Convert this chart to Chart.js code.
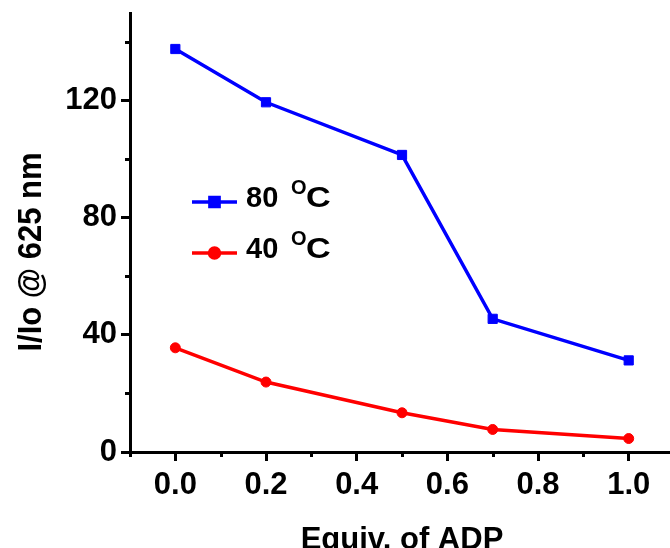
<!DOCTYPE html>
<html>
<head>
<meta charset="utf-8">
<script src="https://cdn.jsdelivr.net/npm/chart.js@4/dist/chart.umd.min.js"></script>
<style>
  html, body { margin: 0; padding: 0; background: #fff; }
  #wrap { width: 670px; height: 548px; }
</style>
</head>
<body>
<div id="wrap"><canvas id="c" width="670" height="548"></canvas></div>
<script>
// ADP equivalents added
const equivADP = [0.0, 0.2, 0.5, 0.7, 1.0];
// Emission ratio at 625 nm for each temperature
const ratio80 = [137.7, 119.5, 101.5, 45.5, 31.3];
const ratio40 = [35.6, 23.9, 13.4, 7.7, 4.6];
const seriesTemps = ['80', '40'];

// Axis ticks
const xMajorTicks = [0.0, 0.2, 0.4, 0.6, 0.8, 1.0];
const xMinorTicks = [-0.1, 0.1, 0.3, 0.5, 0.7, 0.9];
const yMajorTicks = [0, 40, 80, 120];
const yMinorTicks = [20, 60, 100, 140];

const FONT = '"Liberation Sans", Arial, Helvetica, sans-serif';
const BLUE = '#0000ff';
const RED = '#ff0000';

function toPoints(xs, ys) { return xs.map((x, i) => ({ x: x, y: ys[i] })); }

// Let the x axis run right up to the canvas edge
const fullWidthX = {
  id: 'fullWidthX',
  afterLayout(chart) {
    const right = chart.width - 0.5;
    const area = chart.chartArea;
    area.right = right;
    area.width = right - area.left;
    const xs = chart.scales.x;
    xs.right = right;
    xs.width = right - xs.left;
    xs.configure();
  }
};

// Minor ticks, axis titles and the legend with a superscript degree mark
const decorations = {
  id: 'decorations',
  afterDraw(chart) {
    const ctx = chart.ctx;
    const xs = chart.scales.x, ys = chart.scales.y;
    const area = chart.chartArea;
    ctx.save();
    ctx.strokeStyle = '#000';
    ctx.lineWidth = 3;
    xMinorTicks.forEach(v => {
      const px = Math.round(xs.getPixelForValue(v)) + 0.5;
      ctx.beginPath(); ctx.moveTo(px, area.bottom); ctx.lineTo(px, area.bottom + 5); ctx.stroke();
    });
    yMinorTicks.forEach(v => {
      const py = Math.round(ys.getPixelForValue(v)) + 0.5;
      ctx.beginPath(); ctx.moveTo(area.left, py); ctx.lineTo(area.left - 5, py); ctx.stroke();
    });

    // axis titles
    ctx.fillStyle = '#000';
    ctx.font = 'bold 31px ' + FONT;
    ctx.textAlign = 'center';
    ctx.textBaseline = 'alphabetic';
    ctx.fillText('Equiv. of ADP', 402, 549);
    ctx.save();
    ctx.translate(41, 252);
    ctx.rotate(-Math.PI / 2);
    ctx.scale(1, 1.06);
    ctx.font = 'bold 31px ' + FONT;
    ctx.fillText('I/Io @ 625 nm', 0, 0);
    ctx.restore();

    // legend
    const rows = [
      { label: seriesTemps[0], color: BLUE, style: 'rect', r: 6.5, y: 202 },
      { label: seriesTemps[1], color: RED, style: 'circle', r: 5, y: 253 }
    ];
    rows.forEach(row => {
      ctx.strokeStyle = row.color;
      ctx.lineWidth = 3.5;
      ctx.beginPath(); ctx.moveTo(192, row.y); ctx.lineTo(237, row.y); ctx.stroke();
      ctx.fillStyle = row.color;
      Chart.helpers.drawPoint(ctx, { pointStyle: row.style, radius: row.r, borderWidth: 1 }, 214.5, row.y);
      ctx.fill();
      ctx.fillStyle = '#000';
      ctx.textAlign = 'left';
      ctx.textBaseline = 'alphabetic';
      const base = row.y + 4.5;
      ctx.font = 'bold 29px ' + FONT;
      ctx.fillText(row.label, 246, base);
      ctx.font = 'bold 20px ' + FONT;
      ctx.fillText('O', 291, base - 13);
      ctx.font = 'bold 29px ' + FONT;
      ctx.save(); ctx.translate(306, base); ctx.scale(1.18, 1); ctx.fillText('C', 0, 0); ctx.restore();
    });
    ctx.restore();
  }
};

new Chart(document.getElementById('c'), {
  type: 'line',
  data: {
    datasets: [
      {
        label: seriesTemps[0] + ' °C',
        data: toPoints(equivADP, ratio80),
        borderColor: BLUE, backgroundColor: BLUE,
        borderWidth: 3.5, pointStyle: 'rect', pointRadius: 6.5,
        pointBorderWidth: 1, tension: 0
      },
      {
        label: seriesTemps[1] + ' °C',
        data: toPoints(equivADP, ratio40),
        borderColor: RED, backgroundColor: RED,
        borderWidth: 3.5, pointStyle: 'circle', pointRadius: 5,
        pointBorderWidth: 1, tension: 0
      }
    ]
  },
  options: {
    responsive: false,
    animation: false,
    events: [],
    layout: { padding: { left: 0, right: 1, top: 13, bottom: 0 } },
    plugins: { legend: { display: false }, tooltip: { enabled: false } },
    scales: {
      x: {
        type: 'linear', min: -0.1, max: 1.09,
        afterBuildTicks: s => { s.ticks = xMajorTicks.map(v => ({ value: v })); },
        afterFit: s => { s.height = 96; s.paddingLeft = 0; s.paddingRight = 0; },
        border: { color: '#000', width: 3 },
        grid: { drawOnChartArea: false, drawTicks: true, tickLength: 9, tickWidth: 3, tickColor: '#000' },
        ticks: {
          color: '#000', padding: 6, maxRotation: 0,
          font: { family: FONT, size: 31, weight: 'bold' },
          callback: v => Number(v).toFixed(1)
        }
      },
      y: {
        type: 'linear', min: 0, max: 150,
        afterBuildTicks: s => { s.ticks = yMajorTicks.map(v => ({ value: v })); },
        afterFit: s => { s.width = 130; s.paddingTop = 0; s.paddingBottom = 0; },
        border: { color: '#000', width: 3 },
        grid: { drawOnChartArea: false, drawTicks: true, tickLength: 9, tickWidth: 3, tickColor: '#000' },
        ticks: {
          color: '#000', padding: 4,
          font: { family: FONT, size: 31, weight: 'bold' },
          callback: v => String(v)
        }
      }
    }
  },
  plugins: [fullWidthX, decorations]
});
</script>
</body>
</html>
